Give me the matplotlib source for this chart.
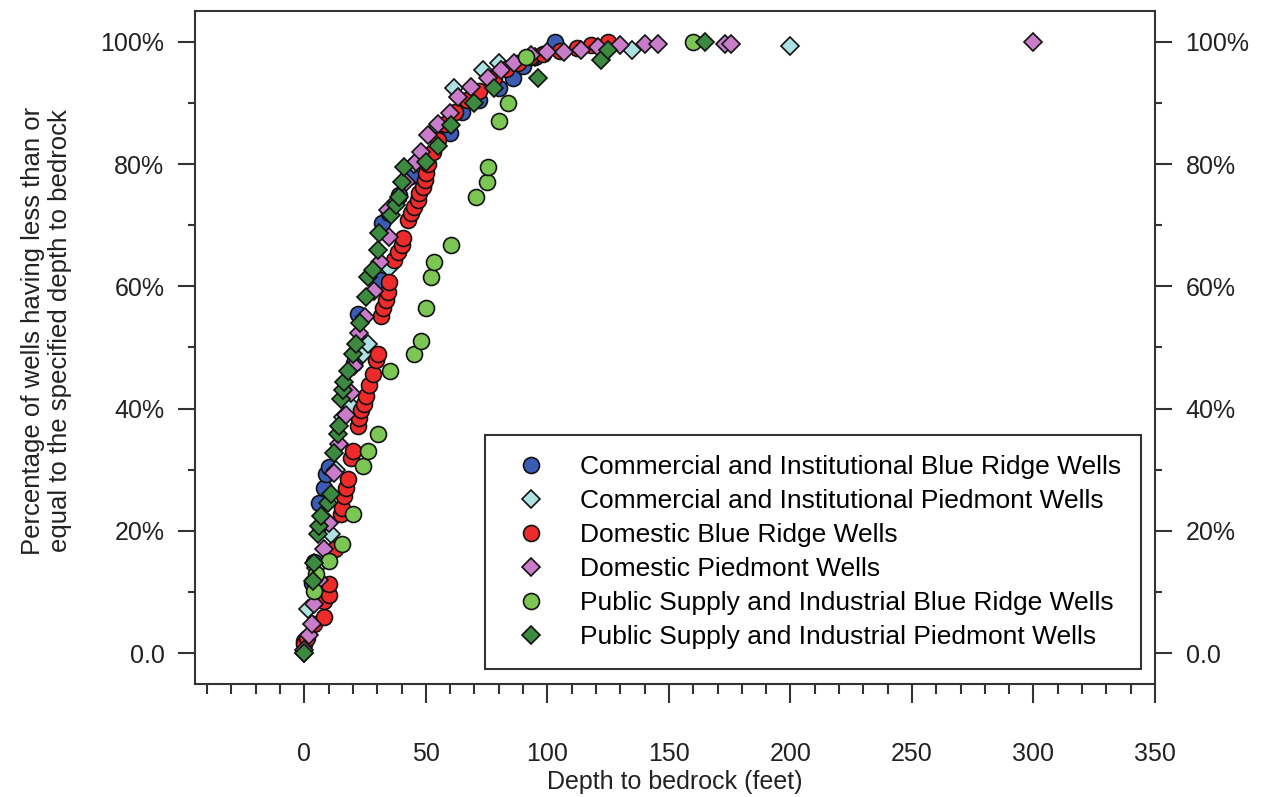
import matplotlib
matplotlib.use("Agg")
import matplotlib.pyplot as plt
from matplotlib.ticker import MultipleLocator, FuncFormatter

plt.rcParams['font.family'] = ['Liberation Sans', 'DejaVu Sans']

# Cumulative depth-to-bedrock curves, one per well group (depth in feet, percent of wells)
comm_br_depth = [0, 3, 4, 6, 8, 9, 10, 20.5, 22, 31, 32, 35, 39, 44, 50, 60, 65, 72, 80, 86, 90, 95, 103]
comm_br_pct = [2, 11.5, 15, 24.6, 27, 29.3, 30.5, 47.5, 55.5, 61, 70.3, 72, 75, 78, 81, 85, 88.5, 90.5,
               92.5, 94, 96, 97.5, 100]

comm_pd_depth = [0, 1.6, 5, 11, 13, 16, 19.3, 24, 26.3, 35, 45, 55, 61.7, 73.6, 80, 95, 135, 200]
comm_pd_pct = [0, 7.2, 14, 19.5, 30, 38.6, 40.5, 49, 50.6, 63, 80, 86, 92.5, 95.4, 96.5, 97.5, 98.7, 99.3]

dom_br_depth = [0, 1, 4, 8, 8.2, 10, 10.3, 12.5, 15, 15.5, 16.5, 17.3, 18, 19.3, 20, 22, 22.6, 23.4, 24.7,
                25.5, 26.7, 28.4, 29.6, 30.4, 31.7, 32.5, 33.7, 34.5, 35, 37, 38.7, 40, 40.7, 42.8, 44,
                45.2, 46.9, 47.3, 49, 49.5, 50, 51, 53, 55, 58, 62, 67, 72, 78, 83, 88, 93, 98, 105,
                112, 118, 125]
dom_br_pct = [1.5, 2.5, 4.8, 6, 8.5, 9.5, 11.3, 17, 22.8, 23.8, 25.7, 27, 28.5, 32, 33, 37.2, 38.5, 39.7,
              40.8, 42, 43.8, 45.7, 47.9, 49, 55.2, 56.4, 57.7, 59, 60.7, 64.3, 65.6, 66.7, 67.9, 70.8,
              72, 73, 74.1, 75.2, 76.2, 77.4, 78.5, 80, 82, 84, 86.5, 88.5, 90.5, 92, 94, 95.5, 96.5,
              97.5, 98, 98.5, 99, 99.5, 100]

dom_pd_depth = [0, 2, 3, 4, 6, 8, 10, 12.3, 14.4, 17, 19.3, 20.6, 22.6, 25, 28.8, 31, 35, 34.5, 38, 42,
                46, 48, 51, 55, 60, 63.3, 68.7, 75.7, 81, 86.3, 93.3, 100, 107, 114, 121, 130, 140,
                145.5, 173, 175.5, 300]
dom_pd_pct = [0.5, 3, 4.8, 8, 12, 17, 21.3, 29.5, 34.3, 39, 42.5, 47, 52.3, 55, 59.3, 64, 68, 72.5, 74,
              77, 80.3, 82, 84.8, 86.5, 88.3, 91, 92.6, 94.1, 95.4, 96.6, 97.9, 98.4, 98.4, 98.7, 99.2,
              99.5, 99.7, 99.7, 99.6, 99.7, 100]

ps_br_depth = [4, 5, 10.3, 15.6, 20, 24.3, 26.3, 30.4, 35.4, 45, 48, 50, 52, 53.5, 60.4, 70.7, 75, 75.7,
               80, 84, 91, 160]
ps_br_pct = [10.2, 13, 15.1, 17.9, 22.8, 30.7, 33.1, 35.9, 46.2, 48.9, 51, 56.5, 61.6, 64, 66.7, 74.6,
             77, 79.5, 87, 90, 97.5, 100]

ps_pd_depth = [0, 3.7, 4.1, 5.8, 6.2, 7, 9.9, 11, 12.3, 14, 14.4, 15.2, 16, 16.4, 18, 20, 21.4, 23, 25.5,
               26.3, 28.4, 30.4, 30.8, 35.8, 37.8, 39, 40, 41, 50, 55, 60.4, 70, 78, 96, 122, 125, 165]
ps_pd_pct = [0, 11.8, 14.8, 19.5, 20.8, 22.5, 24.6, 26, 32.8, 35.9, 37.2, 41.6, 43, 44.3, 46.2, 49, 50.6,
             54, 58.2, 61.5, 62.6, 65.9, 68.7, 71.6, 73.3, 74.6, 77, 79.5, 80.3, 83, 86.4, 90, 92.5, 94,
             97, 98.7, 100]

fig = plt.figure(figsize=(12.62, 7.97), dpi=100)
ax = fig.add_axes([0.1545, 0.142, 0.7607, 0.844])

edge = '#111111'
ax.plot(comm_br_depth, comm_br_pct, 'o', ms=11.5, mfc='#3a5cb4', mec=edge, mew=1.2,
        label='Commercial and Institutional Blue Ridge Wells')
ax.plot(comm_pd_depth, comm_pd_pct, 'D', ms=8.8, mfc='#aee2e2', mec=edge, mew=1.2,
        label='Commercial and Institutional Piedmont Wells')
ax.plot(dom_br_depth, dom_br_pct, 'o', ms=11.5, mfc='#ee2b2b', mec=edge, mew=1.2,
        label='Domestic Blue Ridge Wells')
ax.plot(dom_pd_depth, dom_pd_pct, 'D', ms=8.8, mfc='#c97cc9', mec=edge, mew=1.2,
        label='Domestic Piedmont Wells')
ax.plot(ps_br_depth, ps_br_pct, 'o', ms=11.5, mfc='#7cc653', mec=edge, mew=1.2,
        label='Public Supply and Industrial Blue Ridge Wells')
ax.plot(ps_pd_depth, ps_pd_pct, 'D', ms=8.8, mfc='#3b8a3f', mec=edge, mew=1.2,
        label='Public Supply and Industrial Piedmont Wells')

ax.set_xlim(-45, 350)
ax.set_ylim(-5, 105)

ax.xaxis.set_major_locator(MultipleLocator(50))
ax.xaxis.set_minor_locator(MultipleLocator(10))
ax.yaxis.set_major_locator(MultipleLocator(20))
ax.yaxis.set_minor_locator(MultipleLocator(10))
ax.xaxis.set_major_formatter(FuncFormatter(lambda v, p: '%d' % v if v >= 0 else ''))
ax.yaxis.set_major_formatter(FuncFormatter(lambda v, p: '0.0' if v == 0 else '%d%%' % v))

for s in ax.spines.values():
    s.set_color('#333333')
    s.set_linewidth(1.5)

ax.tick_params(axis='both', which='both', direction='out', colors='#333333',
               labelcolor='#222222', width=1.5)
ax.tick_params(axis='y', which='major', length=12, pad=10, labelsize=18,
               left=True, right=True, labelleft=True, labelright=True)
ax.tick_params(axis='y', which='minor', length=5, left=True, right=True)
ax.tick_params(axis='x', which='major', length=14, pad=28, labelsize=18)
ax.tick_params(axis='x', which='minor', length=7)

ax.set_xlabel('Depth to bedrock (feet)', fontsize=18, color='#222222', labelpad=3)
ax.set_ylabel('Percentage of wells having less than or\nequal to the specified depth to bedrock',
              fontsize=18.5, color='#222222', linespacing=1.15)
ax.yaxis.set_label_coords(-0.128, 0.525)

leg = ax.legend(loc='lower right', bbox_to_anchor=(0.985, 0.022), fontsize=19,
                frameon=True, fancybox=False, edgecolor='#333333', framealpha=1,
                borderpad=0.75, labelspacing=0.38, handlelength=2.0, handletextpad=0.85,
                borderaxespad=0)
leg.get_frame().set_linewidth(1.5)

fig.savefig('out.png', dpi=100)
